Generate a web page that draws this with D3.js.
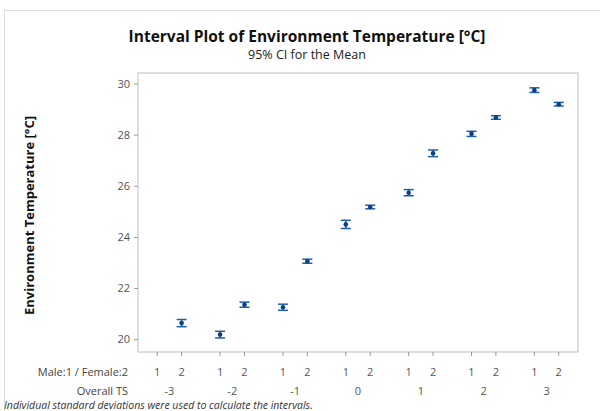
<!DOCTYPE html>
<html>
<head>
<meta charset="utf-8">
<script src="https://cdn.jsdelivr.net/npm/d3@7"></script>
<style>
  body { margin: 0; background: #fff; }
  svg { font-family: "Open Sans", "Noto Sans", sans-serif; }
</style>
</head>
<body>
<div id="chart"></div>
<script>
// Overall TS groups and sex within group
var groups = ['-3', '-2', '-1', '0', '1', '2', '3'];
var sexes = ['1', '2'];
// mean and 95% CI half width, one entry per group/sex cell (null = no data)
var means = [
  [null, 20.63],
  [20.18, 21.35],
  [21.25, 23.05],
  [24.49, 25.17],
  [25.73, 27.27],
  [28.03, 28.67],
  [29.74, 29.19]
];
var halfCI = [
  [null, 0.14],
  [0.13, 0.10],
  [0.12, 0.08],
  [0.16, 0.07],
  [0.12, 0.13],
  [0.10, 0.07],
  [0.09, 0.07]
];
var yTicks = [20, 22, 24, 26, 28, 30];

var width = 600, height = 411;
var svg = d3.select('#chart').append('svg').attr('width', width).attr('height', height);

// light outer frame of the figure
svg.append('rect').attr('x', 4.5).attr('y', 10.5).attr('width', 700).attr('height', 500)
  .attr('fill', 'none').attr('stroke', '#dcdcdc');

var pLeft = 138, pRight = 578, pTop = 73, pBottom = 352;

var x = d3.scalePoint().domain(groups).range([pLeft, pRight]).padding(0.5);
var xIn = d3.scalePoint().domain(sexes).range([-12.2, 12.2]);
var y = d3.scaleLinear().domain([19.5, 30.41]).range([pBottom, pTop]);

svg.append('text').attr('x', 307).attr('y', 42).attr('text-anchor', 'middle')
  .style('font-size', '15.5px').style('font-weight', 'bold').attr('fill', '#111')
  .text('Interval Plot of Environment Temperature [°C]');
svg.append('text').attr('x', 307).attr('y', 59).attr('text-anchor', 'middle')
  .style('font-size', '12.5px').attr('fill', '#222').text('95% CI for the Mean');

svg.append('rect').attr('x', pLeft).attr('y', pTop).attr('width', pRight - pLeft).attr('height', pBottom - pTop)
  .attr('fill', '#fff').attr('stroke', '#c8c8c8').attr('stroke-width', 1.2);

var yAxis = svg.append('g').attr('transform', `translate(${pLeft},0)`)
  .call(d3.axisLeft(y).tickValues(yTicks).tickSize(4).tickPadding(4));
yAxis.select('.domain').remove();
yAxis.selectAll('line').attr('stroke', '#999');
yAxis.selectAll('text').attr('fill', '#555').style('font-size', '11px').style('font-family', '"Open Sans", sans-serif');

svg.append('text').attr('transform', `translate(34,${(pTop + pBottom) / 2 + 3})rotate(-90)`)
  .attr('text-anchor', 'middle').style('font-size', '13px').style('font-weight', 'bold').attr('fill', '#111')
  .text('Environment Temperature [°C]');

// flatten cells
var cells = [];
groups.forEach(function (g, i) {
  sexes.forEach(function (s, j) {
    cells.push({ g: g, s: s, m: means[i][j], h: halfCI[i][j] });
  });
});

var xb = svg.append('g');
xb.selectAll('line').data(cells).enter().append('line')
  .attr('x1', d => x(d.g) + xIn(d.s)).attr('x2', d => x(d.g) + xIn(d.s))
  .attr('y1', pBottom).attr('y2', pBottom + 4).attr('stroke', '#999');
xb.selectAll('text.sx').data(cells).enter().append('text').attr('class', 'sx')
  .attr('x', d => x(d.g) + xIn(d.s)).attr('y', 376).attr('text-anchor', 'middle')
  .style('font-size', '11px').attr('fill', '#555').text(d => d.s);
xb.selectAll('text.gx').data(groups).enter().append('text').attr('class', 'gx')
  .attr('x', d => x(d)).attr('y', 395).attr('text-anchor', 'middle')
  .style('font-size', '11px').attr('fill', '#555').text(d => d);

svg.append('text').attr('x', 128).attr('y', 376).attr('text-anchor', 'end')
  .style('font-size', '11px').attr('fill', '#444').text('Male:1 / Female:2');
svg.append('text').attr('x', 128).attr('y', 395).attr('text-anchor', 'end')
  .style('font-size', '11px').attr('fill', '#444').text('Overall TS');

svg.append('text').attr('x', 4).attr('y', 409)
  .style('font-size', '10.5px').style('font-style', 'italic').attr('fill', '#333')
  .text('Individual standard deviations were used to calculate the intervals.');

var blue = '#1c5ea8';
var pts = svg.append('g').selectAll('g').data(cells.filter(d => d.m !== null)).enter().append('g')
  .attr('transform', d => `translate(${x(d.g) + xIn(d.s)},0)`);
pts.append('line').attr('y1', d => y(d.m - d.h)).attr('y2', d => y(d.m + d.h))
  .attr('stroke', blue).attr('stroke-width', 1.5);
pts.append('line').attr('x1', -5).attr('x2', 5).attr('y1', d => y(d.m + d.h)).attr('y2', d => y(d.m + d.h))
  .attr('stroke', blue).attr('stroke-width', 1.5);
pts.append('line').attr('x1', -5).attr('x2', 5).attr('y1', d => y(d.m - d.h)).attr('y2', d => y(d.m - d.h))
  .attr('stroke', blue).attr('stroke-width', 1.5);
pts.append('circle').attr('cy', d => y(d.m)).attr('r', 2.3).attr('fill', '#0b3f85');
</script>
</body>
</html>
